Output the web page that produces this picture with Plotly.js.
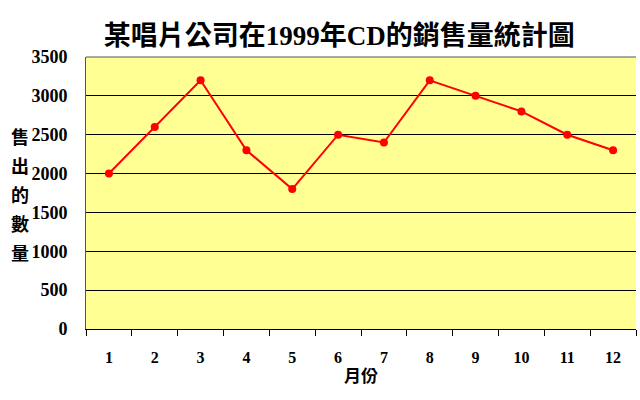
<!DOCTYPE html>
<html><head><meta charset="utf-8">
<script src="https://cdn.plot.ly/plotly-3.0.1.min.js"></script>
<style>body{margin:0;background:#fff}#c{width:640px;height:400px}</style>
</head><body><div id="c"></div>
<script>
const months = ['1','2','3','4','5','6','7','8','9','10','11','12'];
const sales = [2000,2600,3200,2300,1800,2500,2400,3200,3000,2800,2500,2300];
const yTicks = [0,500,1000,1500,2000,2500,3000,3500];
const titleText = '某唱片公司在1999年CD的銷售量統計圖';
const xTitle = '月份';
const yTitleChars = ['售','出','的','數','量'];

const fontFam = '"Liberation Serif", "Noto Sans CJK TC", serif';
const plotTop = 57, plotH = 272;
const yTitleAnn = yTitleChars.map((ch, i) => ({
  text: '<b>' + ch + '</b>', xref: 'paper', yref: 'paper',
  x: -0.12, y: 1 - (138 + i * 29 - plotTop) / plotH, xanchor: 'center', yanchor: 'middle',
  showarrow: false, font: {family: fontFam, size: 18, color: '#000'}
}));
Plotly.newPlot('c', [{
  x: months, y: sales, type: 'scatter', mode: 'lines+markers',
  line: {color: '#FF0000', width: 2},
  marker: {color: '#FF0000', size: 8}
}], {
  width: 640, height: 400,
  margin: {l: 86, r: 4, t: plotTop, b: 71},
  paper_bgcolor: '#FFFFFF', plot_bgcolor: '#FFFF94',
  showlegend: false,
  title: {text: '<b>' + titleText + '</b>', x: 0.53, xanchor: 'center', y: 0.91, yanchor: 'middle',
    font: {family: fontFam, size: 27, color: '#000'}},
  xaxis: {type: 'category', categoryorder: 'array', categoryarray: months,
    range: [-0.5, 11.5], autorange: false,
    tickson: 'boundaries', ticks: 'outside', ticklen: 6, tickcolor: '#000',
    showline: true, linecolor: '#000', linewidth: 1, mirror: false, showgrid: false,
    ticklabelstandoff: 14,
    tickfont: {family: fontFam, size: 16, color: '#000', weight: 'bold'},
    title: {text: '<b>' + xTitle + '</b>', standoff: 4, font: {family: fontFam, size: 17, color: '#000'}}},
  yaxis: {range: [0, 3500], autorange: false, tickvals: yTicks, ticktext: yTicks.map(v => '<b>' + v + '</b>'),
    showgrid: true, gridcolor: '#000', gridwidth: 1, zeroline: false,
    showline: true, linecolor: '#555', ticks: '', ticklabelstandoff: 14,
    tickfont: {family: fontFam, size: 18, color: '#000'}},
  shapes: [{type: 'line', xref: 'paper', yref: 'paper', x0: 0, x1: 1, y0: 1, y1: 1,
    line: {color: '#555', width: 1}}],
  annotations: yTitleAnn
}, {displayModeBar: false, staticPlot: true});
</script></body></html>
